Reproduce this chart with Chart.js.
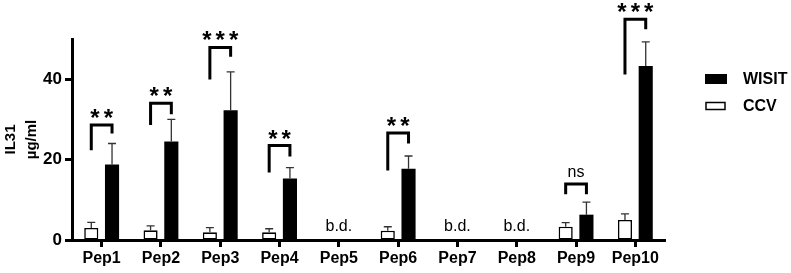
<!DOCTYPE html>
<html>
<head>
<meta charset="utf-8">
<script src="https://cdn.jsdelivr.net/npm/chart.js@4/dist/chart.umd.min.js"></script>
<style>
  html, body { margin: 0; padding: 0; background: #fff; }
</style>
</head>
<body>
<canvas id="il31Chart" width="791" height="273"></canvas>
<script>
var categories = ['Pep1', 'Pep2', 'Pep3', 'Pep4', 'Pep5', 'Pep6', 'Pep7', 'Pep8', 'Pep9', 'Pep10'];
var ccvValues = [3.0, 2.4, 1.9, 1.9, null, 2.3, null, null, 3.3, 5.0];
var ccvErrors = [1.4, 1.1, 1.2, 0.9, null, 1.0, null, null, 1.0, 1.5];
var wisitValues = [18.8, 24.5, 32.3, 15.3, null, 17.7, null, null, 6.3, 43.3];
var wisitErrors = [5.2, 5.5, 9.5, 2.7, null, 3.2, null, null, 3.1, 6.0];
var yTickValues = [0, 20, 40];

// significance brackets (heights in µg/ml)
var sigLabels = ['**', '**', '***', '**', null, '**', null, null, 'ns', '***'];
var bracketTop = [28.6, 34.0, 47.9, 23.5, null, 26.6, null, null, 13.9, 54.9];
var bracketLeftFoot = [22.3, 28.6, 39.9, 16.8, null, 17.3, null, null, 11.4, 41.2];
var bracketRightFoot = [26.5, 31.3, 45.6, 20.8, null, 24.0, null, null, 11.4, 52.4];
var belowDetection = [false, false, false, false, true, false, true, true, false, false];

Chart.defaults.font.family = '"Liberation Sans", Arial, Helvetica, sans-serif';
Chart.defaults.color = '#000';

var annotations = {
    id: 'annotations',
    afterDatasetsDraw: function (chart) {
        var ctx = chart.ctx;
        var x = chart.scales.x;
        var y = chart.scales.y;
        var ccvMeta = chart.getDatasetMeta(0);
        var wisitMeta = chart.getDatasetMeta(1);
        ctx.save();

        // error bars, upper side only
        [[ccvMeta, ccvValues, ccvErrors], [wisitMeta, wisitValues, wisitErrors]].forEach(function (s) {
            s[0].data.forEach(function (bar, i) {
                if (s[1][i] == null) return;
                var top = y.getPixelForValue(s[1][i] + s[2][i]);
                var base = y.getPixelForValue(s[1][i]);
                ctx.strokeStyle = '#333';
                ctx.lineWidth = 1.3;
                ctx.beginPath();
                ctx.moveTo(bar.x, base);
                ctx.lineTo(bar.x, top);
                ctx.moveTo(bar.x - 4, top);
                ctx.lineTo(bar.x + 4, top);
                ctx.stroke();
            });
        });

        // brackets and labels
        for (var i = 0; i < categories.length; i++) {
            if (!sigLabels[i]) continue;
            var xl = ccvMeta.data[i].x;
            var xr = wisitMeta.data[i].x;
            var yt = y.getPixelForValue(bracketTop[i]);
            ctx.strokeStyle = '#000';
            ctx.lineWidth = 3;
            ctx.lineJoin = 'miter';
            ctx.beginPath();
            ctx.moveTo(xl, y.getPixelForValue(bracketLeftFoot[i]));
            ctx.lineTo(xl, yt);
            ctx.lineTo(xr, yt);
            ctx.lineTo(xr, y.getPixelForValue(bracketRightFoot[i]));
            ctx.stroke();

            ctx.fillStyle = '#000';
            ctx.textAlign = 'center';
            ctx.textBaseline = 'alphabetic';
            if (sigLabels[i] === 'ns') {
                ctx.font = '16px "Liberation Sans", Arial, sans-serif';
                ctx.letterSpacing = '0px';
                ctx.fillText('ns', (xl + xr) / 2, yt - 7.5);
            } else {
                ctx.font = 'bold 24px "Liberation Sans", Arial, sans-serif';
                ctx.letterSpacing = '4px';
                ctx.fillText(sigLabels[i], (xl + xr) / 2 + 2, yt + 1);
            }
        }

        // b.d. markers
        ctx.letterSpacing = '0px';
        ctx.font = '16px "Liberation Sans", Arial, sans-serif';
        ctx.textAlign = 'center';
        ctx.textBaseline = 'alphabetic';
        belowDetection.forEach(function (bd, i) {
            if (bd) ctx.fillText('b.d.', x.getPixelForValue(i), y.getPixelForValue(0) - 9.5);
        });

        // legend (WISIT listed first)
        var lx = chart.chartArea.right + 40;
        var order = [1, 0];
        var rows = [79, 106];
        order.forEach(function (di, k) {
            var ds = chart.data.datasets[di];
            var cy = rows[k];
            if (di === 1) {
                ctx.fillStyle = ds.backgroundColor;
                ctx.fillRect(lx, cy - 5, 22, 10);
            } else {
                ctx.fillStyle = ds.backgroundColor;
                ctx.fillRect(lx + 1, cy - 3.5, 19, 7);
                ctx.strokeStyle = ds.borderColor;
                ctx.lineWidth = 1.5;
                ctx.strokeRect(lx + 1, cy - 3.5, 19, 7);
            }
            ctx.fillStyle = '#000';
            ctx.font = 'bold 16px "Liberation Sans", Arial, sans-serif';
            ctx.textAlign = 'left';
            ctx.textBaseline = 'middle';
            ctx.fillText(ds.label, lx + 38, cy + 1);
        });
        ctx.restore();
    }
};

var ctx = document.getElementById('il31Chart').getContext('2d');
var il31Chart = new Chart(ctx, {
    type: 'bar',
    data: {
        labels: categories,
        datasets: [{
            label: 'CCV',
            data: ccvValues,
            backgroundColor: '#ffffff',
            borderColor: '#000000',
            borderWidth: 1.6,
            borderSkipped: false,
            categoryPercentage: 0.7,
            barPercentage: 0.68
        }, {
            label: 'WISIT',
            data: wisitValues,
            backgroundColor: '#000000',
            borderColor: '#000000',
            borderWidth: 0,
            categoryPercentage: 0.7,
            barPercentage: 0.68
        }]
    },
    options: {
        responsive: false,
        animation: false,
        layout: {
            padding: { top: 39, right: 126, bottom: 0, left: 0 }
        },
        plugins: {
            legend: { display: false },
            tooltip: { enabled: false }
        },
        scales: {
            x: {
                offset: true,
                grid: {
                    offset: false,
                    drawOnChartArea: false,
                    tickLength: 7,
                    tickWidth: 3,
                    tickColor: '#000'
                },
                border: { color: '#000', width: 3 },
                ticks: {
                    autoSkip: false,
                    maxRotation: 0,
                    padding: 2,
                    color: '#000',
                    font: { size: 16, weight: 'bold' }
                },
                afterFit: function (scale) { scale.height = 33; }
            },
            y: {
                min: 0,
                max: 50,
                grid: {
                    drawOnChartArea: false,
                    tickLength: 7,
                    tickWidth: 3,
                    tickColor: '#000'
                },
                border: { color: '#000', width: 3 },
                ticks: {
                    padding: 3,
                    color: '#000',
                    font: { size: 17, weight: 'bold' }
                },
                afterBuildTicks: function (scale) {
                    scale.ticks = yTickValues.map(function (v) { return { value: v }; });
                },
                title: {
                    display: true,
                    text: ['IL31', 'µg/ml'],
                    color: '#000',
                    padding: { top: 1, bottom: 0 },
                    font: { size: 15, weight: 'bold', lineHeight: 1.35 }
                },
                afterFit: function (scale) { scale.width = 72; }
            }
        }
    },
    plugins: [annotations]
});
</script>
</body>
</html>
